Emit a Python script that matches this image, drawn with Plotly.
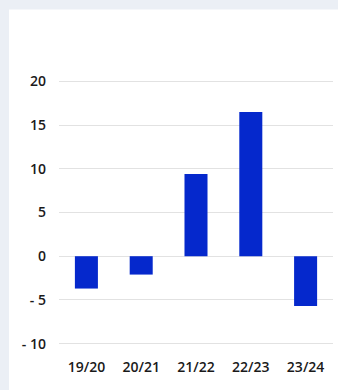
import plotly.graph_objects as go

# Year-on-year change by season
seasons = ["19/20", "20/21", "21/22", "22/23", "23/24"]
changes = [-3.7, -2.1, 9.4, 16.5, -5.7]

tick_values = [-10, -5, 0, 5, 10, 15, 20]
tick_labels = ["- 10", "- 5", "0", "5", "10", "15", "20"]

BAR_BLUE = "#0528CC"
GRID = "#e2e2e2"
FRAME = "#ebeff5"
TEXT = "#1a1a1a"

fig = go.Figure(
    go.Bar(
        x=seasons,
        y=changes,
        marker=dict(color=BAR_BLUE, line=dict(width=0)),
        hoverinfo="x+y",
    )
)

fig.update_layout(
    width=338,
    height=390,
    margin=dict(l=59, r=5, t=77, b=42),
    paper_bgcolor=FRAME,
    plot_bgcolor="white",
    bargap=0.58,
    showlegend=False,
    font=dict(family="Open Sans", size=14, color=TEXT, weight=600),
    shapes=[
        # white card behind the chart
        dict(
            type="rect",
            xref="paper",
            yref="paper",
            x0=-0.1825,
            x1=1.2,
            y0=-0.3,
            y1=1.2487,
            fillcolor="white",
            line=dict(width=0),
            layer="below",
        )
    ],
)

tick_font = dict(family="Open Sans", size=14, color=TEXT, weight=600)

fig.update_xaxes(
    showgrid=False,
    showline=False,
    zeroline=False,
    ticks="",
    ticklabelstandoff=9,
    tickfont=tick_font,
)

fig.update_yaxes(
    range=[-10.5, 20.5],
    tickvals=tick_values,
    ticktext=tick_labels,
    showgrid=True,
    gridcolor=GRID,
    gridwidth=1,
    zeroline=True,
    zerolinecolor=GRID,
    zerolinewidth=1,
    showline=False,
    ticks="",
    ticklabelstandoff=12,
    tickfont=tick_font,
)

fig.write_html("out.html")
